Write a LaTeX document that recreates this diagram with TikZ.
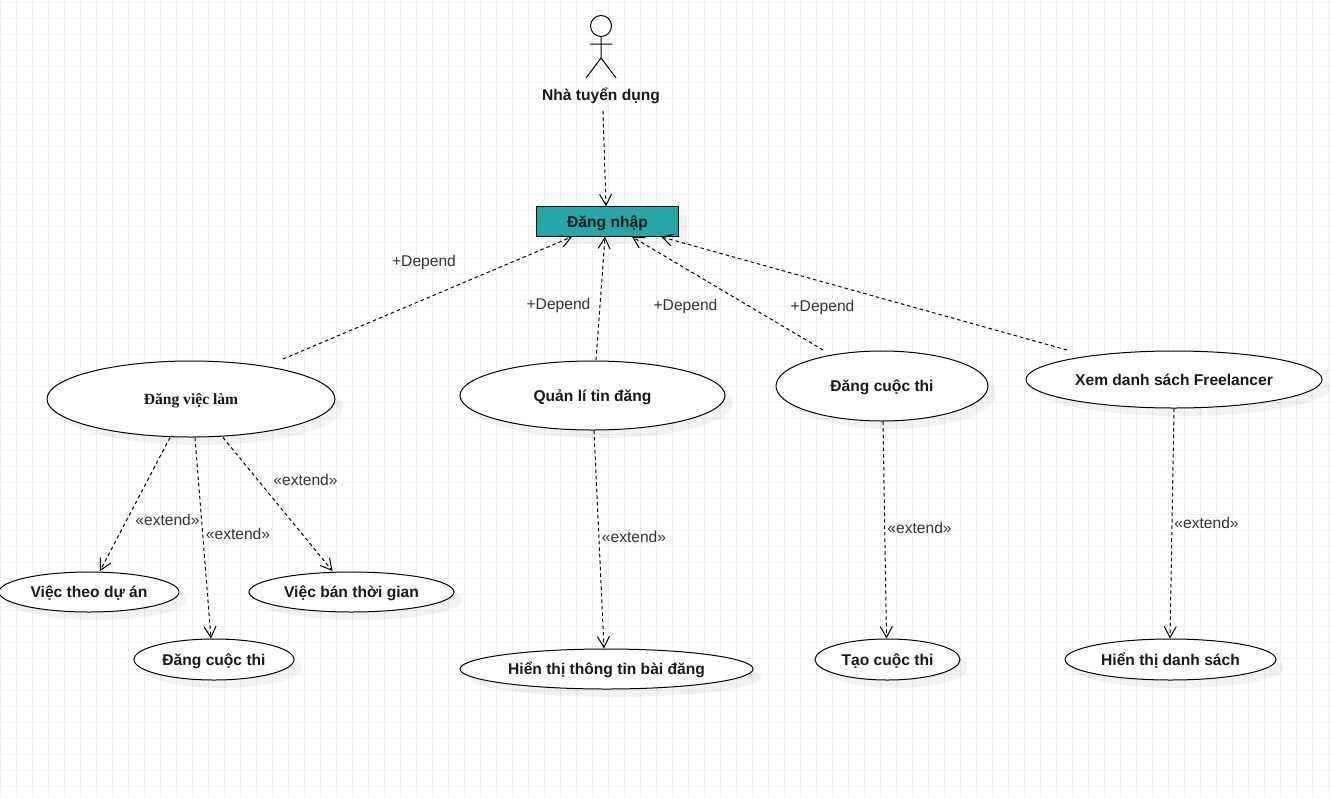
\documentclass[tikz,border=0pt]{standalone}
\usepackage{fontspec}
\setmainfont{Liberation Sans}
\newfontfamily\serifbold{Liberation Serif}
\usetikzlibrary{arrows.meta,shadows,shapes.geometric}

\definecolor{teal_box}{HTML}{26A6A8}
\definecolor{grid_line}{HTML}{F0F0F0}
\definecolor{label_text}{HTML}{333333}

\tikzset{
    soft_shadow/.style={drop shadow={shadow xshift=8pt,shadow yshift=-8pt,fill=black,opacity=0.05}},
    usecase/.style={ellipse,draw,fill=white,soft_shadow,line width=1pt,inner sep=0pt,text height=11pt,text depth=0pt,
        font=\fontsize{15.6}{19}\selectfont\bfseries,text=black!90},
    link/.style={dash pattern=on 3.5pt off 3pt,line width=1pt,-{Straight Barb[length=11pt,width=12pt,line width=1pt]}},
    tag/.style={font=\fontsize{15.6}{19}\selectfont,text=label_text,inner sep=0pt,text height=11pt,text depth=0pt},
}

\begin{document}
\begin{tikzpicture}[x=1pt,y=-1pt]
\useasboundingbox (0,0) rectangle (1332,798);
\fill[white] (0,0) rectangle (1332,798);

% grid
\foreach \i in {0,16,...,1328} \draw[grid_line,line width=1pt] (\i,0)--(\i,798);
\foreach \j in {2,18,...,798} \draw[grid_line,line width=1pt] (0,\j)--(1332,\j);

% actor
\node[circle,draw,line width=1pt,fill=white,minimum size=21pt,inner sep=0pt] (head) at (601,26) {};
\coordinate (hip) at (601,58);
\coordinate (arm_l) at (590,44);
\coordinate (arm_r) at (612,44);
\coordinate (foot_l) at (586,78);
\coordinate (foot_r) at (616,78);
\draw[line width=1pt] (head.south)--(hip) (arm_l)--(arm_r) (foot_l)--(hip)--(foot_r);
\node[tag,font=\fontsize{15.6}{19}\selectfont\bfseries,text=black!90] (actor) at (601,95) {Nhà tuyển dụng};

% login box
\node[draw,fill=teal_box,soft_shadow,line width=1pt,minimum width=142pt,minimum height=29.5pt,inner sep=0pt,text height=11pt,text depth=0pt,
    font=\fontsize{15.6}{19}\selectfont\bfseries,text=black!90] (login) at (607.5,221.5) {Đăng nhập};

% use cases
\node[usecase,minimum width=288pt,minimum height=76pt,font=\serifbold\fontsize{15.6}{19}\selectfont\bfseries] (post_job) at (191,399) {Đăng việc làm};
\node[usecase,minimum width=265pt,minimum height=69pt] (manage_post) at (592.5,395.5) {Quản lí tin đăng};
\node[usecase,minimum width=212pt,minimum height=70pt] (post_contest) at (882,386) {Đăng cuộc thi};
\node[usecase,minimum width=296pt,minimum height=57pt] (view_list) at (1174,379.5) {Xem danh sách Freelancer};

\node[usecase,minimum width=180pt,minimum height=40pt] (project_job) at (89,592) {Việc theo dự án};
\node[usecase,minimum width=205pt,minimum height=40pt] (part_time) at (351.5,592) {Việc bán thời gian};
\node[usecase,minimum width=160pt,minimum height=41pt] (post_contest_b) at (214,659.5) {Đăng cuộc thi};
\node[usecase,minimum width=293pt,minimum height=40pt] (show_post) at (606.5,669) {Hiển thị thông tin bài đăng};
\node[usecase,minimum width=145pt,minimum height=41pt] (make_contest) at (887.5,659.5) {Tạo cuộc thi};
\node[usecase,minimum width=211pt,minimum height=41pt] (show_list) at (1170.5,659.5) {Hiển thị danh sách};

% free ends of the connectors
\coordinate (actor_end) at (603,111);
\coordinate (job_end) at (283,359);
\coordinate (manage_end) at (596,360);
\coordinate (contest_end) at (823,350);
\coordinate (list_end) at (1067,350);

\draw[link] (actor_end)--([xshift=-1.5pt]login.north);
\draw[link] (job_end)--([xshift=-35.5pt]login.south);
\draw[link] (manage_end)--([xshift=-2.5pt]login.south);
\draw[link] (contest_end)--([xshift=24.5pt]login.south);
\draw[link] (list_end)--([xshift=53.5pt]login.south);

\draw[link] ([xshift=-21pt]post_job.south)--([xshift=11pt,yshift=0.5pt]project_job.north);
\draw[link] ([xshift=4pt]post_job.south)--([xshift=-3pt]post_contest_b.north);
\draw[link] ([xshift=32pt]post_job.south)--([xshift=-19pt,yshift=0.5pt]part_time.north);
\draw[link] ([xshift=1.5pt]manage_post.south)--([xshift=-2.5pt]show_post.north);
\draw[link] ([xshift=1pt]post_contest.south)--([xshift=-1pt]make_contest.north);
\draw[link] (view_list.south)--([xshift=-0.5pt]show_list.north);

% labels
\node[tag] (dep_a) at (424,260.5) {+Depend};
\node[tag] (dep_b) at (558.5,303.5) {+Depend};
\node[tag] (dep_c) at (685.5,304.5) {+Depend};
\node[tag] (dep_d) at (822.5,305.5) {+Depend};
\node[tag] (ext_a) at (305.5,479.5) {«extend»};
\node[tag] (ext_b) at (167.5,519.5) {«extend»};
\node[tag] (ext_c) at (238,533.5) {«extend»};
\node[tag] (ext_d) at (634,536.5) {«extend»};
\node[tag] (ext_e) at (919.5,527.5) {«extend»};
\node[tag] (ext_f) at (1206.5,522.5) {«extend»};

\end{tikzpicture}
\end{document}
